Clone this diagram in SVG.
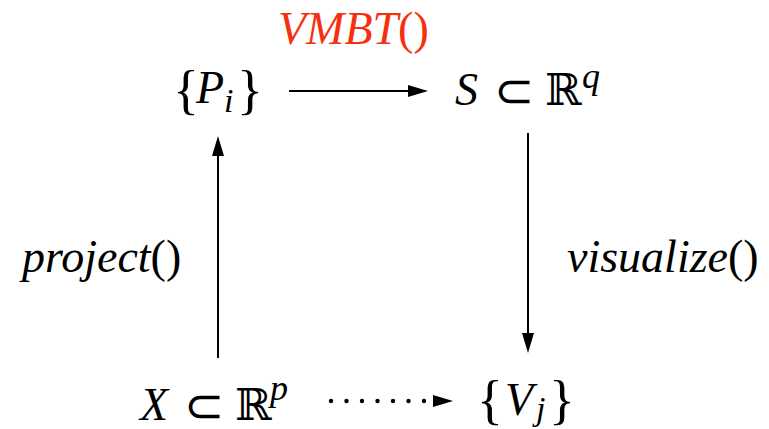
<svg xmlns="http://www.w3.org/2000/svg" width="769" height="429" viewBox="0 0 769 429">
<defs>
<style>
text{font-family:'Liberation Serif','Times New Roman',serif;fill:#000}
.i{font-style:italic}
.m{font-family:'DejaVu Serif',serif}
.sub{font-family:'DejaVu Sans',sans-serif;font-weight:200}
.ln{stroke:#000;stroke-width:2;fill:none}
.ah{fill:#000}
.dot{fill:#000}
</style>
</defs>
<rect width="769" height="429" fill="#fff"/>
<g id="connectors">
  <g id="e-vmbt">
    <line class="ln" x1="289" y1="91" x2="412" y2="91"/>
    <polygon class="ah" points="428,91 408,85 408,97"/>
    <text x="278" y="44" font-size="46" style="fill:#f5300f"><tspan class="i">VMBT</tspan>()</text>
  </g>
  <g id="e-project">
    <line class="ln" x1="218" y1="358" x2="218" y2="154"/>
    <polygon class="ah" points="218,136 212,156 224,156"/>
    <text x="22" y="272" font-size="46"><tspan class="i">project</tspan>()</text>
  </g>
  <g id="e-visualize">
    <line class="ln" x1="528" y1="133" x2="528" y2="336"/>
    <polygon class="ah" points="528,353 522,333 534,333"/>
    <text x="567" y="272" font-size="46"><tspan class="i">visualize</tspan>()</text>
  </g>
  <g id="e-dotted">
    <circle class="dot" cx="331" cy="401" r="2.2"/>
    <circle class="dot" cx="346.5" cy="401" r="2.2"/>
    <circle class="dot" cx="362" cy="401" r="2.2"/>
    <circle class="dot" cx="377.5" cy="401" r="2.2"/>
    <circle class="dot" cx="393" cy="401" r="2.2"/>
    <circle class="dot" cx="408.5" cy="401" r="2.2"/>
    <circle class="dot" cx="424" cy="401" r="2.2"/>
    <polygon class="ah" points="453,401 433,395 433,407"/>
  </g>
</g>
<g id="node-P">
  <text x="173" y="108" font-size="54">{<tspan class="i" x="196" y="103" font-size="46">P</tspan><tspan class="i" x="224" y="112" font-size="34">i</tspan><tspan x="237" y="108">}</tspan></text>
</g>
<g id="node-S">
  <text x="455" y="105" font-size="46"><tspan class="i">S</tspan><tspan class="sub" x="494" y="107" font-size="48">⊂</tspan><tspan class="m" x="545" y="105" font-size="44">ℝ</tspan><tspan class="i" x="582" y="88" font-size="36">q</tspan></text>
</g>
<g id="node-X">
  <text x="140" y="420" font-size="46"><tspan class="i">X</tspan><tspan class="sub" x="184" y="422" font-size="48">⊂</tspan><tspan class="m" x="235" y="420" font-size="44">ℝ</tspan><tspan class="i" x="270" y="400" font-size="36">p</tspan></text>
</g>
<g id="node-V">
  <text x="477" y="418" font-size="54">{<tspan class="i" x="505" y="415" font-size="46">V</tspan><tspan class="i" x="536" y="420" font-size="34">j</tspan><tspan x="549" y="418">}</tspan></text>
</g>
</svg>
